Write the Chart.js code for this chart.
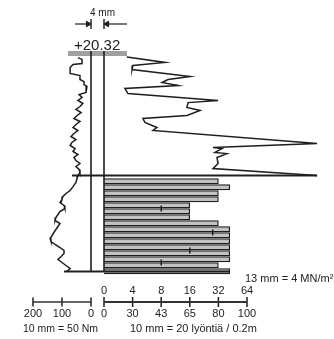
<!DOCTYPE html>
<html><head><meta charset="utf-8">
<script src="https://cdn.jsdelivr.net/npm/chart.js@4/dist/chart.umd.min.js"></script>
<style>
html,body{margin:0;padding:0;background:#fff;overflow:hidden}
#wrap{position:relative;width:334px;height:339px}
canvas{position:absolute;left:0;top:0}
.t{position:absolute;font-family:"Liberation Sans",Arial,sans-serif;color:#222;white-space:nowrap;line-height:1}
</style></head><body>
<div id="wrap">
<canvas id="c" width="334" height="339"></canvas>
<div class="t" style="left:90px;top:8px;font-size:10px">4 mm</div>
<div class="t" style="left:74px;top:37px;font-size:15px">+20.32</div>
<div class="t" style="left:245px;top:273px;font-size:11px">13 mm = 4 MN/m²</div>
<div class="t" style="left:23px;top:323px;font-size:10.5px">10 mm = 50 Nm</div>
<div class="t" style="left:130px;top:323px;font-size:11px">10 mm = 20 lyöntiä / 0.2m</div>
</div>
<script>
// ---------------- DATA ----------------
// Torque curve (left panel): depth [m] and torque [Nm]
const TORQUE_DEPTH = [0.07,0.13,0.27,0.30,0.40,0.60,0.67,0.80,0.87,0.97,1.03,1.23,1.30,1.40,1.50,1.60,1.70,1.80,1.90,2.00,2.10,2.20,2.30,2.40,2.50,2.60,2.70,2.80,2.90,3.00,3.10,3.20,3.30,3.40,3.50,3.60,3.70,3.80,3.90,4.00,4.10,4.23,4.37,4.50,4.60,4.70,4.80,4.90,5.00,5.10,5.20,5.30,5.40,5.50,5.60,5.70,5.80,5.90,6.00,6.10,6.20,6.30,6.40,6.50,6.60,6.70,6.80,6.90,7.00,7.10,7.20];
const TORQUE_NM    = [45,31,31,62,72,72,38,38,24,24,14,17,41,31,45,28,38,52,34,48,59,38,52,62,45,59,69,52,66,72,55,62,45,59,52,38,52,41,38,45,48,52,62,72,86,97,100,107,93,90,107,114,121,124,107,114,121,128,134,141,138,124,107,93,93,103,114,100,86,72,83];
// Upper resistance profile (right panel): depth [m] and value in scale divisions
const RESIST_DEPTH = [0.05,0.23,0.33,0.47,0.70,0.80,0.90,1.00,1.10,1.27,1.50,1.57,1.73,1.83,2.00,2.10,2.23,2.40,2.50,2.93,3.07,3.10,3.23,3.27,3.40,3.60,3.77,4.00];
const RESIST_DIV   = [0.80,2.13,1.01,0.98,3.01,2.24,2.03,2.59,0.73,0.84,3.99,2.94,2.90,3.36,2.90,1.36,1.43,1.85,1.71,7.45,3.81,4.13,3.88,4.30,3.95,3.99,3.81,7.45];
// Blow counts per 0.2 m (bars): depth centre [m] and value in scale divisions
const BLOW_DEPTH = [4.1,4.3,4.5,4.7,4.9,5.1,5.3,5.5,5.7,5.9,6.1,6.3,6.5,6.7,6.9,7.1];
const BLOW_DIV   = [4.0,4.4,4.0,4.0,3.0,3.0,3.0,4.0,4.4,4.4,4.4,4.4,4.4,4.4,4.0,4.4];
// Small marks inside bars
const MARK_DEPTH = [5.1,5.9,6.5,6.9];
const MARK_DIV   = [2.0,3.8,3.0,2.0];
// Scale labels
const SCALE_TOP_LABELS    = ['0','4','8','16','32','64'];
const SCALE_BOTTOM_LABELS = ['0','30','43','65','80','100'];
const TORQUE_TICKS        = [200,100,0];

// ---------------- LAYOUT ----------------
const W = 334, H = 339;
const Y0_PX = 55.5, PX_PER_M = 30;       // depth 0 at y=55.5 px
const R0_PX = 104, PX_PER_DIV = 28.6;    // right panel zero
const L0_PX = 91,  PX_PER_NM = 0.29;     // left panel zero
const yAt = px => (px - Y0_PX) / PX_PER_M;
const rX  = px => (px - R0_PX) / PX_PER_DIV;
const lX  = px => (L0_PX - px) / PX_PER_NM;
const INK = '#1e1e1e';
const FONT = '"Liberation Sans", Arial, sans-serif';
const BOTTOM_DEPTH = 7.2, BOUNDARY_DEPTH = 4.0;
const SCALE_LINE_Y = yAt(302);

const R_MIN = rX(0), R_MAX = rX(W);
const L_MIN = lX(W), L_MAX = lX(0);

function seg(axis, pts, width, color) {
  return {type:'line', xAxisID:axis, yAxisID:'y', data:pts,
    borderColor:color || INK, borderWidth:width || 1.5, pointRadius:0, fill:false, tension:0};
}
function marks(axis, pts, radius, width, rot) {
  return {type:'line', xAxisID:axis, yAxisID:'y', showLine:false, data:pts,
    pointStyle:'line', rotation:rot, pointRadius:radius, pointBorderWidth:width, pointBorderColor:INK};
}
function pts(xs, ys) { return xs.map((x, i) => ({x:x, y:ys[i]})); }

const datasets = [
  // curves
  seg('xL', pts(TORQUE_NM, TORQUE_DEPTH), 1.5),
  seg('xR', pts(RESIST_DIV, RESIST_DEPTH), 1.5),
  // frame lines
  seg('xL', [{x:0,y:yAt(51)},{x:0,y:BOTTOM_DEPTH}], 1.6),
  seg('xR', [{x:0,y:yAt(51)},{x:0,y:BOTTOM_DEPTH}], 1.6),
  seg('xR', [{x:rX(72),y:BOUNDARY_DEPTH},{x:7.45,y:BOUNDARY_DEPTH}], 1.8),
  seg('xR', [{x:rX(64),y:BOTTOM_DEPTH},{x:4.4,y:BOTTOM_DEPTH}], 1.8),
  seg('xR', [{x:rX(68),y:yAt(53.5)},{x:rX(127),y:yAt(53.5)}], 5, '#a0a0a0'),
  // 4 mm dimension arrows
  seg('xL', [{x:lX(75),y:yAt(24)},{x:0,y:yAt(24)}], 1.2),
  seg('xL', [{x:0,y:yAt(19)},{x:0,y:yAt(29)}], 1.4),
  seg('xR', [{x:0,y:yAt(24)},{x:rX(127),y:yAt(24)}], 1.2),
  seg('xR', [{x:0,y:yAt(19)},{x:0,y:yAt(29)}], 1.4),
  {type:'line', xAxisID:'xL', yAxisID:'y', showLine:false, data:[{x:lX(88),y:yAt(24)}],
   pointStyle:'triangle', rotation:90, pointRadius:3.2, pointBackgroundColor:INK, pointBorderColor:INK, pointBorderWidth:1},
  {type:'line', xAxisID:'xR', yAxisID:'y', showLine:false, data:[{x:rX(107),y:yAt(24)}],
   pointStyle:'triangle', rotation:-90, pointRadius:3.2, pointBackgroundColor:INK, pointBorderColor:INK, pointBorderWidth:1},
  // scale bars with tick marks
  seg('xR', [{x:0,y:SCALE_LINE_Y},{x:SCALE_TOP_LABELS.length-1,y:SCALE_LINE_Y}], 2, '#333'),
  seg('xL', [{x:TORQUE_TICKS[0],y:SCALE_LINE_Y},{x:TORQUE_TICKS[TORQUE_TICKS.length-1],y:SCALE_LINE_Y}], 1.6, '#333'),
  marks('xR', SCALE_TOP_LABELS.map((_, i) => ({x:i, y:SCALE_LINE_Y})), 5, 1.5, 90),
  marks('xL', TORQUE_TICKS.map(v => ({x:v, y:SCALE_LINE_Y})), 4.5, 1.5, 90),
  // marks inside bars
  marks('xR', pts(MARK_DIV, MARK_DEPTH), 3, 1.5, 90),
  // bars
  {type:'bar', indexAxis:'y', xAxisID:'xR', yAxisID:'y', data:pts(BLOW_DIV, BLOW_DEPTH),
   backgroundColor:'#c2c2c2', borderColor:INK, borderWidth:1.3, barThickness:5.4}
];

const tickFont = {family:FONT, size:11};
const hidden = (min, max, rev) => ({type:'linear', display:false, min:min, max:max, reverse:!!rev, bounds:'data', offset:false});
function labelAxis(min, max, rev, px, values, labels) {
  return {type:'linear', min:min, max:max, reverse:!!rev, bounds:'data', position:{y:yAt(px)},
    grid:{display:false, drawTicks:false, tickLength:0}, border:{display:false},
    afterBuildTicks: s => { s.ticks = values.map(v => ({value:v})); },
    ticks:{padding:0, autoSkip:false, maxRotation:0, color:INK, font:tickFont,
      callback:(v, i) => labels[i]}};
}

new Chart(document.getElementById('c'), {
  type:'line',
  data:{datasets:datasets},
  options:{
    responsive:false, animation:false, events:[],
    layout:{padding:0, autoPadding:false},
    plugins:{legend:{display:false}, tooltip:{enabled:false}},
    scales:{
      y: hidden(yAt(0), yAt(H), true),
      xR: hidden(R_MIN, R_MAX),
      xL: hidden(L_MIN, L_MAX, true),
      xRtop: labelAxis(R_MIN, R_MAX, false, 284, SCALE_TOP_LABELS.map((_, i) => i), SCALE_TOP_LABELS),
      xRbot: labelAxis(R_MIN, R_MAX, false, 307.5, SCALE_BOTTOM_LABELS.map((_, i) => i), SCALE_BOTTOM_LABELS),
      xLbot: labelAxis(L_MIN, L_MAX, true, 307.5, TORQUE_TICKS, TORQUE_TICKS.map(String))
    }
  }
});
</script>
</body></html>
